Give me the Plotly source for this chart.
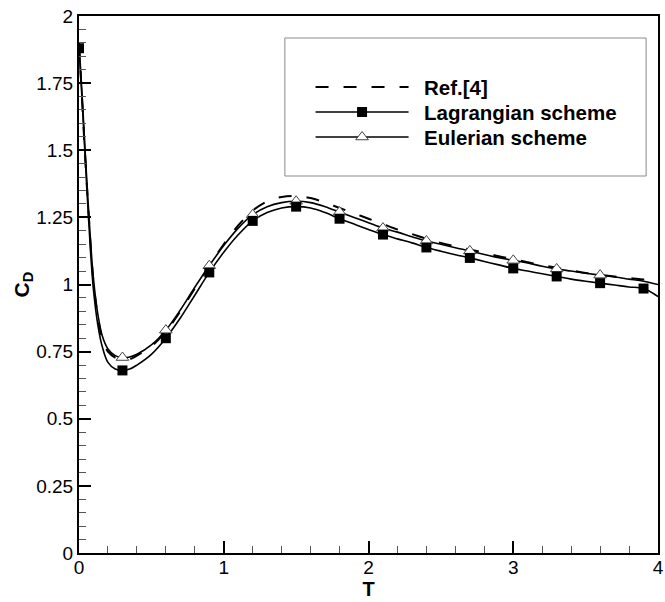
import plotly.graph_objects as go

# ---------------- data ----------------
t_line = [0, 0.02, 0.04, 0.06, 0.08, 0.1, 0.13, 0.16, 0.2, 0.25, 0.3, 0.35, 0.4, 0.5,
          0.6, 0.7, 0.8, 0.9, 1.0, 1.1, 1.2, 1.3, 1.4, 1.5, 1.6, 1.7, 1.8, 1.9, 2.0,
          2.1, 2.2, 2.3, 2.4, 2.5, 2.6, 2.7, 2.8, 2.9, 3.0, 3.1, 3.2, 3.3, 3.4, 3.5,
          3.6, 3.7, 3.8, 3.9, 4.0]

cd_ref = [1.90, 1.70, 1.50, 1.32, 1.15, 1.01, 0.88, 0.80, 0.75, 0.728, 0.72, 0.722, 0.735, 0.77,
          0.825, 0.90, 0.985, 1.07, 1.15, 1.22, 1.275, 1.31, 1.326, 1.33, 1.322, 1.305, 1.285, 1.265, 1.245,
          1.225, 1.205, 1.188, 1.17, 1.155, 1.142, 1.13, 1.118, 1.105, 1.094, 1.083, 1.072, 1.062, 1.052, 1.043,
          1.036, 1.03, 1.024, 1.019, 1.013]

cd_lag = [1.88, 1.70, 1.50, 1.30, 1.12, 0.98, 0.85, 0.77, 0.71, 0.685, 0.68, 0.685, 0.70, 0.74,
          0.80, 0.875, 0.96, 1.045, 1.12, 1.185, 1.237, 1.268, 1.285, 1.29, 1.285, 1.268, 1.245, 1.225, 1.205,
          1.186, 1.17, 1.155, 1.138, 1.124, 1.111, 1.099, 1.086, 1.073, 1.06, 1.05, 1.04, 1.03, 1.02, 1.012,
          1.005, 0.998, 0.991, 0.985, 0.955]

cd_eul = [1.90, 1.72, 1.52, 1.33, 1.16, 1.02, 0.89, 0.81, 0.76, 0.735, 0.728, 0.73, 0.74, 0.775,
          0.83, 0.905, 0.99, 1.07, 1.145, 1.21, 1.26, 1.29, 1.305, 1.31, 1.305, 1.29, 1.27, 1.25, 1.23,
          1.21, 1.195, 1.178, 1.162, 1.15, 1.137, 1.125, 1.112, 1.10, 1.09, 1.08, 1.068, 1.058, 1.05, 1.042,
          1.035, 1.028, 1.02, 1.012, 1.0]

t_lag_mk = [0, 0.3, 0.6, 0.9, 1.2, 1.5, 1.8, 2.1, 2.4, 2.7, 3.0, 3.3, 3.6, 3.9]
cd_lag_mk = [1.88, 0.68, 0.80, 1.045, 1.237, 1.29, 1.245, 1.186, 1.138, 1.099, 1.06, 1.03, 1.005, 0.985]

t_eul_mk = [0.3, 0.6, 0.9, 1.2, 1.5, 1.8, 2.1, 2.4, 2.7, 3.0, 3.3, 3.6]
cd_eul_mk = [0.728, 0.83, 1.07, 1.26, 1.31, 1.27, 1.21, 1.162, 1.125, 1.09, 1.058, 1.035]

x_tickvals = [0, 1, 2, 3, 4]
x_ticktext = ["0", "1", "2", "3", "4"]
y_tickvals = [0, 0.25, 0.5, 0.75, 1, 1.25, 1.5, 1.75, 2]
y_ticktext = ["0", "0.25", "0.5", "0.75", "1", "1.25", "1.5", "1.75", "2"]

legend_names = ["Ref.[4]", "Lagrangian scheme", "Eulerian scheme"]

# ---------------- figure ----------------
FONT = "Liberation Sans, Arial, Helvetica, sans-serif"
DASH = "13px,15px"
fig = go.Figure()

fig.add_trace(go.Scatter(x=t_line, y=cd_ref, mode="lines", line=dict(color="black", width=2, dash=DASH),
                         line_shape="spline", showlegend=False))
fig.add_trace(go.Scatter(x=t_line, y=cd_eul, mode="lines", line=dict(color="black", width=1.6),
                         line_shape="spline", showlegend=False))
fig.add_trace(go.Scatter(x=t_line, y=cd_lag, mode="lines", line=dict(color="black", width=1.6),
                         line_shape="spline", showlegend=False))
fig.add_trace(go.Scatter(x=t_eul_mk, y=cd_eul_mk, mode="markers",
                         marker=dict(symbol="triangle-up", size=11, color="white",
                                     line=dict(color="#444", width=1)), showlegend=False))
fig.add_trace(go.Scatter(x=t_lag_mk, y=cd_lag_mk, mode="markers",
                         marker=dict(symbol="square", size=10, color="black",
                                     line=dict(color="black", width=0)), showlegend=False))

# ---- manual legend on an overlay axis measured in pixels ----
leg_x0, leg_x1 = 318, 412
leg_mid = 365
leg_rows = [87, 112, 137]
fig.add_trace(go.Scatter(x=[leg_x0, leg_x1], y=[leg_rows[0]] * 2, mode="lines",
                         line=dict(color="black", width=2, dash=DASH),
                         xaxis="x2", yaxis="y2", showlegend=False))
fig.add_trace(go.Scatter(x=[leg_x0, leg_x1], y=[leg_rows[1]] * 2, mode="lines",
                         line=dict(color="black", width=1.6), xaxis="x2", yaxis="y2", showlegend=False))
fig.add_trace(go.Scatter(x=[leg_mid], y=[leg_rows[1]], mode="markers",
                         marker=dict(symbol="square", size=10, color="black"),
                         xaxis="x2", yaxis="y2", showlegend=False))
fig.add_trace(go.Scatter(x=[leg_x0, leg_x1], y=[leg_rows[2]] * 2, mode="lines",
                         line=dict(color="black", width=1.6), xaxis="x2", yaxis="y2", showlegend=False))
fig.add_trace(go.Scatter(x=[leg_mid], y=[leg_rows[2]], mode="markers",
                         marker=dict(symbol="triangle-up", size=11, color="white",
                                     line=dict(color="#444", width=1)),
                         xaxis="x2", yaxis="y2", showlegend=False))

for name, yy in zip(legend_names, leg_rows):
    fig.add_annotation(x=426, y=yy, xref="x2", yref="y2", text="<b>%s</b>" % name,
                       showarrow=False, xanchor="left", yanchor="middle",
                       font=dict(family=FONT, size=20.5, color="black"))

fig.add_shape(type="rect", xref="x2", yref="y2", x0=287, x1=652, y0=38, y1=176,
              line=dict(color="#8a8a8a", width=1), fillcolor="rgba(0,0,0,0)", layer="below")

fig.update_layout(
    width=665, height=602,
    margin=dict(l=79, r=1, t=16, b=49),
    plot_bgcolor="white", paper_bgcolor="white",
    font=dict(family=FONT, size=19, color="black"),
    xaxis=dict(range=[0, 4], tickvals=x_tickvals, ticktext=x_ticktext,
               ticks="inside", ticklen=12, tickwidth=2, tickcolor="black",
               minor=dict(ticks="inside", ticklen=7, tickwidth=1, tickcolor="#555", dtick=0.2),
               showline=True, linewidth=2, linecolor="black", mirror=True,
               showgrid=False, zeroline=False, ticklabeloverflow="allow",
               ticklabelstandoff=-4,
               title=dict(text="<b>T</b>", font=dict(size=20), standoff=4),
               tickfont=dict(size=19)),
    yaxis=dict(range=[0, 2], tickvals=y_tickvals, ticktext=y_ticktext,
               ticks="inside", ticklen=12, tickwidth=2, tickcolor="black",
               minor=dict(ticks="inside", ticklen=7, tickwidth=1, tickcolor="#555", dtick=0.05),
               showline=True, linewidth=2, linecolor="black", mirror=True,
               showgrid=False, zeroline=False,
               title=dict(text="<b>C<sub>D</sub></b>", font=dict(size=21), standoff=1),
               tickfont=dict(size=19)),
    xaxis2=dict(overlaying="x", range=[79, 664], visible=False, fixedrange=True),
    yaxis2=dict(overlaying="y", range=[553, 16], visible=False, fixedrange=True),
)

fig.write_html("out.html")
